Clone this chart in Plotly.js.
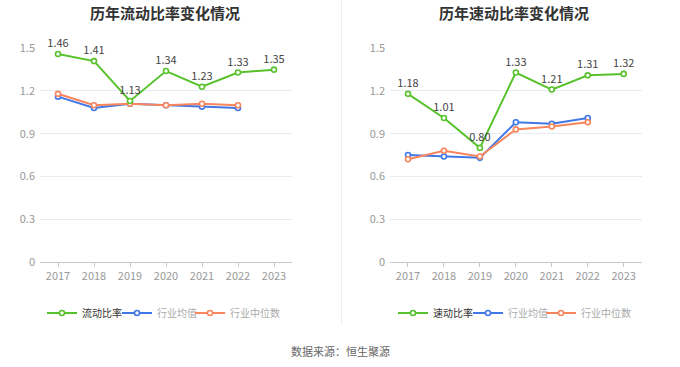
<!DOCTYPE html>
<html>
<head>
<meta charset="utf-8">
<script src="https://cdn.plot.ly/plotly-3.0.1.min.js"></script>
<style>html,body{margin:0;padding:0;background:#fff;}#chart{width:680px;height:367px;}</style>
</head>
<body>
<div id="chart"></div>
<script>
const years = ['2017','2018','2019','2020','2021','2022','2023'];
const industryYears = ['2017','2018','2019','2020','2021','2022'];
const currentRatio = [1.46,1.41,1.13,1.34,1.23,1.33,1.35];
const currentMean = [1.16,1.08,1.11,1.10,1.09,1.08];
const currentMedian = [1.18,1.10,1.11,1.10,1.11,1.10];
const quickRatio = [1.18,1.01,0.80,1.33,1.21,1.31,1.32];
const quickMean = [0.75,0.74,0.73,0.98,0.97,1.01];
const quickMedian = [0.72,0.78,0.74,0.93,0.95,0.98];
const leftTitle = '历年流动比率变化情况';
const rightTitle = '历年速动比率变化情况';
const seriesNamesLeft = ['流动比率','行业均值','行业中位数'];
const seriesNamesRight = ['速动比率','行业均值','行业中位数'];
const sourceText = '数据来源：恒生聚源';

const GREEN = '#58c22c', BLUE = '#4277e6', ORANGE = '#f7855d';
const FONT = '"Noto Sans CJK SC", "Noto Sans", sans-serif';

function line(x, y, name, color, xa, ya, legend, withText) {
  const t = {
    x: x, y: y, name: name, type: 'scatter', mode: withText ? 'lines+markers+text' : 'lines+markers',
    xaxis: xa, yaxis: ya, legend: legend,
    line: {color: color, width: 2},
    marker: {symbol: 'circle', size: 5, color: '#fff', line: {color: color, width: 1.6}},
    cliponaxis: false, hoverinfo: 'skip'
  };
  if (withText) {
    t.texttemplate = '%{y:.2f}';
    t.textposition = 'top center';
    t.textfont = {size: 11, color: '#444', family: FONT};
  }
  return t;
}

const data = [
  line(industryYears, currentMean, seriesNamesLeft[1], BLUE, 'x', 'y', 'legend2', false),
  line(industryYears, currentMedian, seriesNamesLeft[2], ORANGE, 'x', 'y', 'legend3', false),
  line(years, currentRatio, seriesNamesLeft[0], GREEN, 'x', 'y', 'legend', true),
  line(industryYears, quickMean, seriesNamesRight[1], BLUE, 'x2', 'y2', 'legend5', false),
  line(industryYears, quickMedian, seriesNamesRight[2], ORANGE, 'x2', 'y2', 'legend6', false),
  line(years, quickRatio, seriesNamesRight[0], GREEN, 'x2', 'y2', 'legend4', true)
];

function xax(domain) {
  return {
    domain: domain, type: 'category', range: [-0.5, 6.5], fixedrange: true,
    showgrid: false, zeroline: false, showline: true, linecolor: '#c8c8c8', linewidth: 1,
    ticks: 'outside', ticklen: 4, tickcolor: '#c8c8c8', tickwidth: 1,
    tickfont: {size: 11, color: '#999', family: FONT}
  };
}
function yax(anchor) {
  return {
    domain: [0.2869, 0.8684], range: [0, 1.5], dtick: 0.3, tick0: 0, anchor: anchor,
    showgrid: true, gridcolor: '#e6eaf2', gridwidth: 1, zeroline: false, showline: false,
    ticks: '', tickfont: {size: 11, color: '#999', family: FONT}, ticklabelstandoff: 4
  };
}
function leg(xpx, color) {
  return {
    x: (xpx - 40) / 680, xanchor: 'left', y: (367 - 313) / 367, yanchor: 'middle',
    orientation: 'h', bgcolor: 'rgba(0,0,0,0)', borderwidth: 0,
    font: {size: 10, color: color, family: FONT}, itemwidth: 30, itemclick: false, itemdoubleclick: false
  };
}

const layout = {
  width: 680, height: 367,
  margin: {l: 0, r: 0, t: 0, b: 0},
  paper_bgcolor: '#fff', plot_bgcolor: '#fff',
  font: {family: FONT},
  showlegend: true,
  xaxis: Object.assign(xax([40/680, 292/680]), {anchor: 'y'}),
  yaxis: yax('x'),
  xaxis2: Object.assign(xax([390/680, 641.7/680]), {anchor: 'y2'}),
  yaxis2: yax('x2'),
  legend: leg(82, '#333'),
  legend2: leg(157, '#aaa'),
  legend3: leg(230, '#aaa'),
  legend4: leg(433, '#333'),
  legend5: leg(508, '#aaa'),
  legend6: leg(581, '#aaa'),
  shapes: [{type: 'line', xref: 'paper', yref: 'paper', x0: 341.5/680, x1: 341.5/680, y0: (367-325)/367, y1: 1,
            line: {color: '#efefef', width: 1}}],
  annotations: [
    {text: '<b>' + leftTitle + '</b>', xref: 'paper', yref: 'paper', x: 165/680, y: (367-12)/367,
     xanchor: 'center', yanchor: 'middle', showarrow: false, font: {size: 15, color: '#333', family: FONT}},
    {text: '<b>' + rightTitle + '</b>', xref: 'paper', yref: 'paper', x: 514/680, y: (367-12)/367,
     xanchor: 'center', yanchor: 'middle', showarrow: false, font: {size: 15, color: '#333', family: FONT}},
    {text: sourceText, xref: 'paper', yref: 'paper', x: 340/680, y: (367-351)/367,
     xanchor: 'center', yanchor: 'middle', showarrow: false, font: {size: 11, color: '#666', family: FONT}}
  ]
};

Plotly.newPlot('chart', data, layout, {staticPlot: true, displayModeBar: false});
</script>
</body>
</html>
